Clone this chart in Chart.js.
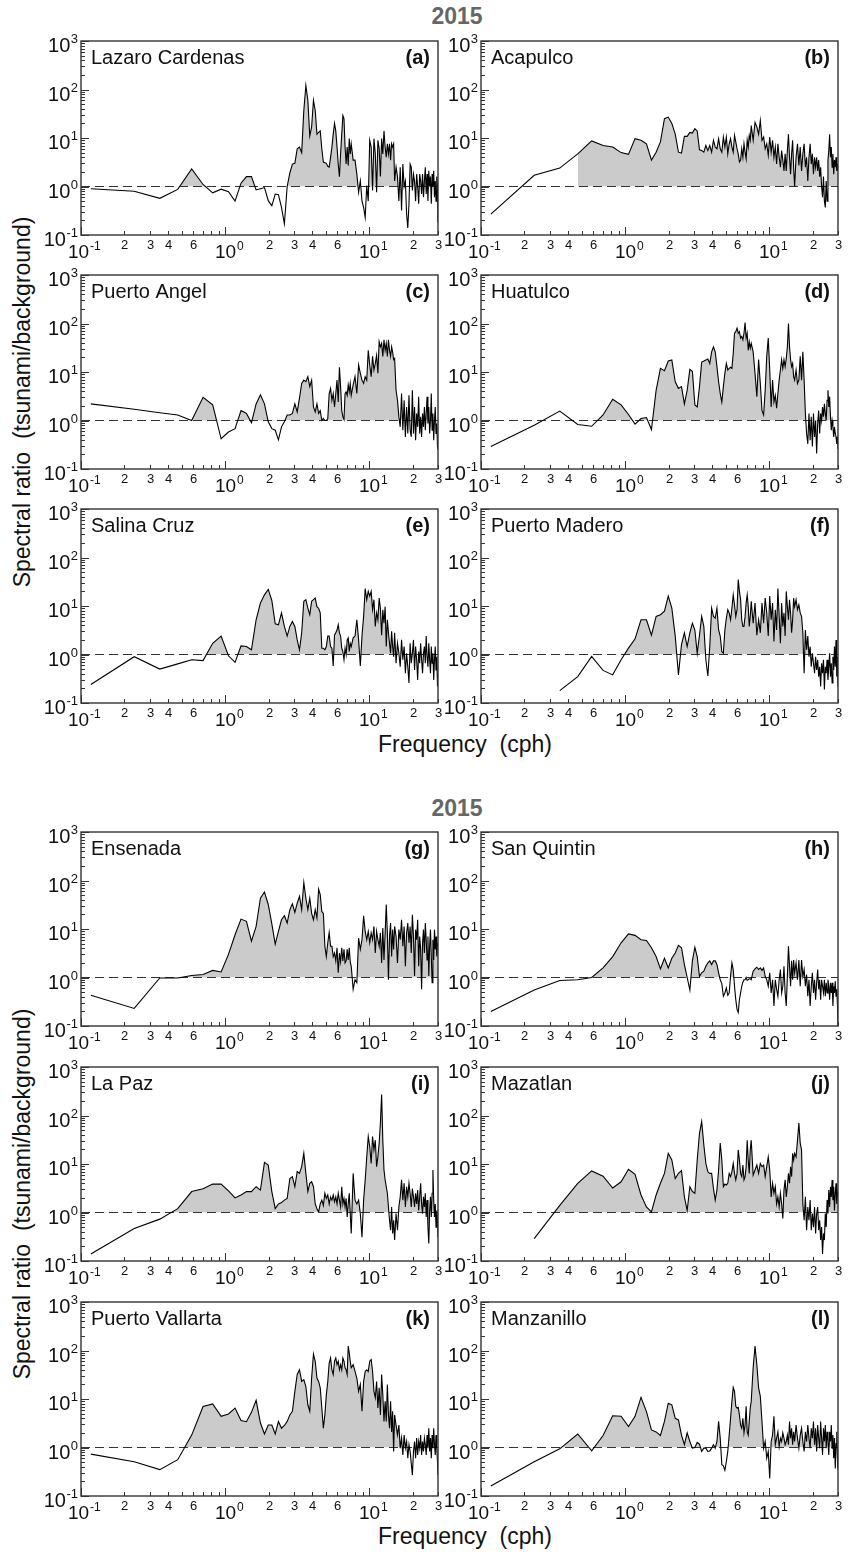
<!DOCTYPE html>
<html><head><meta charset="utf-8">
<script src="https://cdn.jsdelivr.net/npm/chart.js@4.4.1/dist/chart.umd.min.js"></script>
<style>
html,body{margin:0;padding:0;background:#fff;}
body{width:849px;height:1555px;position:relative;overflow:hidden;font-family:"Liberation Sans",Arial,sans-serif;color:#111;}
canvas{position:absolute;}
.t{position:absolute;white-space:nowrap;line-height:23px;}
.yr{font-weight:bold;font-size:23px;color:#666;transform:translateX(-50%);}
.xl{font-size:23px;transform:translateX(-50%);}
.yl{font-size:23px;transform:translate(-50%,-50%) rotate(-90deg);}
</style></head><body>
<div class="t yr" style="left:457px;top:5px;">2015</div>
<div class="t xl" style="left:465px;top:733px;">Frequency&nbsp;&nbsp;(cph)</div>
<div class="t yl" style="left:22px;top:402px;">Spectral ratio&nbsp;&nbsp;(tsunami/background)</div>
<div class="t yr" style="left:457px;top:797px;">2015</div>
<div class="t xl" style="left:465px;top:1525px;">Frequency&nbsp;&nbsp;(cph)</div>
<div class="t yl" style="left:22px;top:1194px;">Spectral ratio&nbsp;&nbsp;(tsunami/background)</div>
<script>
// Frequency grid (cph)
const FREQ = [
0.117,0.234,0.352,0.469,0.586,0.703,0.820,0.938,1.055,1.172,
1.289,1.406,1.523,1.641,1.758,1.875,1.992,2.109,2.227,2.344,
2.461,2.578,2.695,2.813,2.930,3.047,3.164,3.281,3.398,3.516,
3.633,3.750,3.867,3.984,4.102,4.219,4.336,4.453,4.570,4.688,
4.805,4.922,5.039,5.156,5.273,5.391,5.508,5.625,5.742,5.859,
5.977,6.094,6.211,6.328,6.445,6.563,6.680,6.797,6.914,7.031,
7.148,7.266,7.383,7.500,7.734,7.969,8.203,8.438,8.672,8.906,
9.141,9.375,9.609,9.844,10.078,10.313,10.547,10.781,11.016,11.250,
11.484,11.719,11.953,12.188,12.422,12.656,12.891,13.125,13.359,13.594,
13.828,14.063,14.297,14.531,14.766,15.000,15.352,15.703,16.055,16.406,
16.758,17.109,17.461,17.813,18.164,18.516,18.867,19.219,19.570,19.922,
20.273,20.625,20.977,21.328,21.680,22.031,22.383,22.734,23.086,23.438,
23.789,24.141,24.492,24.844,25.195,25.547,25.898,26.250,26.602,26.953,
27.305,27.656,28.008,28.359,28.711,29.063,29.414,29.766,30.000];

// Spectral ratio (tsunami/background) per station
const LAZARO_CARDENAS = [
0.9,0.8,0.57,0.87,2.3,1.1,0.74,0.88,0.78,0.5,
1.17,1.6,1.6,0.85,0.9,0.95,0.51,0.4,0.7,0.68,
0.37,0.17,1.0,1.9,2.9,3.0,6,6.5,5,37,
120,60,11,17,60,37,12,13,14,6,
3.2,3.1,3.0,2.6,2.5,4,6.5,12,20,14,
6.5,2.9,1.6,4.7,12,29,25,6.5,2.9,6.5,
2.7,9.7,4.7,7.6,3.5,3.5,1.8,0.76,1.3,0.5,
0.37,0.23,1.05,0.5,9,6.5,0.83,9.7,4.7,0.76,
9,6,1.6,9.7,4.7,14,6.5,4,7.6,4.7,
7.6,3.5,7.6,6.5,7.6,1.3,2.5,1.6,0.5,2.5,
0.32,2.9,1.0,1.3,0.27,0.14,0.44,2.9,2.5,0.83,
1.8,1.3,0.5,1.8,1,0.44,1.8,1.3,0.7,1.8,
0.6,1.3,2.5,0.7,1.8,0.5,2.1,1,1.6,0.44,
1.8,1.0,2.1,0.6,1.3,0.5,1.6,1,0.18];
const ACAPULCO = [
0.27,1.7,2.4,4.7,8.7,7,6.5,5,4.6,9.7,
9,7.6,3.5,5.1,8.3,25,27,20,12,5.1,
4.9,10.8,10.8,13,12.6,15.6,14,5.7,5.5,5.1,
7,5.5,7,5.1,9,6.5,6,9.7,6,5.1,
10.5,6.5,10.5,4.7,7.6,9.7,6.5,5.1,11.3,8.3,
6,4.7,3.2,3.5,6,4,7.6,5.1,3.7,9,
6.5,11.3,9,18,9,21,17,12,23,9,
10.5,6,7.6,4.4,10.5,5.1,9,4,6.5,2.9,
7.6,4,2.5,5.5,3.5,2.1,4.7,2.1,5.5,12,
4,1.8,4.7,9,2.5,1.0,4,7.6,2.7,6.5,
2.1,4.7,7.6,2.5,4,1.3,4,7.6,2.9,4.7,
1.8,4,2.5,4,2.1,3.5,1.6,2.5,1.0,0.6,
1.6,0.5,0.37,1.3,0.5,3.5,5.5,12,4,6.5,
2.5,4.7,1.8,3.5,2.5,4,2.1,2.9,2.1];
const PUERTO_ANGEL = [
2.2,1.7,1.44,1.3,1.0,3.0,2.1,0.42,0.58,0.68,
1.6,1.4,0.9,2.2,3.4,2.2,0.94,0.68,0.63,0.4,
0.74,0.94,1.3,1.3,1.4,2.2,1.5,2.9,5.8,6.8,
6.3,8,5,6.8,1.9,1.5,2.2,1.4,1.6,1.0,
1.1,1.0,1.0,1.1,3.6,4.6,2.6,3.6,1.9,3.6,
6.8,2.4,12.5,5,1.6,1.2,1.05,3.6,3.9,3.3,
5.4,3.9,5.8,3.3,5.4,8,3.6,14,9.4,6.8,
5.8,8,6.8,28,14,8,21,11,15,22,
9.4,42,33,39,21,46,28,39,21,46,
28,21,33,26,18,19,4.2,2.6,1.2,0.74,
3.6,0.63,2.6,0.46,1.9,0.54,3.3,0.63,0.46,4.2,
0.54,1.9,0.39,1.4,0.74,3.1,0.54,1.2,0.46,1.4,
0.74,1.9,0.63,1.4,3.1,0.87,1.9,0.54,1.0,3.6,
0.63,1.4,0.39,1.0,1.9,0.54,0.87,0.29,0.25];
const HUATULCO = [
0.29,0.8,1.56,0.83,0.76,1.3,2.75,2.1,1.33,0.84,
1.1,1.15,0.65,4.2,11.9,10.6,16.8,17.7,6.3,4.6,
5,2.2,4.2,11.3,10.2,2.1,1.9,5,16,16.8,
17.7,18.6,15,26,33,26,12.9,6.3,3.6,2.4,
5,9.4,15,11,11.9,12.5,11.9,24,63,68,
80,63,68,50,54,46,63,105,50,63,
28,42,31,39,26,9.4,3.1,18,5.8,1.6,
1.3,4.2,21,50,11,1.9,6.8,2.4,3.3,1.8,
3.6,6.8,11,18,11.9,18,12.9,19,33,100,
33,18,12.9,15,8,6.8,11,5.8,6.8,21,
6.8,26,6.8,1.4,0.54,0.33,1.4,0.39,1.2,0.29,
1.4,0.46,1.0,0.21,0.87,1.6,0.54,1.4,1.0,1.9,
1.2,2.2,1.4,1.0,2.6,4.2,1.9,3.1,1.2,0.63,
1.0,0.74,0.46,0.74,0.54,0.46,0.33,0.46,0.26];
const SALINA_CRUZ = [
0.24,0.9,0.5,0.64,0.78,0.75,1.7,2.4,0.94,0.69,
1.5,1.46,1.25,5.2,11.5,17,22,13,4.3,4.1,
7.2,3.8,2.4,3.8,4.8,3.8,2.0,1.25,2.8,12.5,
13.5,9,6.6,12.5,13.5,14.6,9.7,9,7.2,1.35,
1.35,1.25,1.46,2.4,2.4,1.46,1.35,0.58,2.5,2.8,
3.2,4.1,2.8,2.4,1.35,1.15,0.78,1.35,1.0,2.0,
2.2,1.15,1.7,1.46,2.2,2.4,5.2,2.0,0.58,2.4,
6.1,23,13.5,20,16,20,8.4,13.5,3.8,7.2,
5.2,14.6,9,2.5,8.4,4.4,9.7,1.46,5.2,2.8,
1.7,1.06,3,1.46,0.9,2.8,0.66,1.7,1.06,0.56,
2.0,0.78,1.46,0.41,1.06,0.56,0.26,1.7,0.66,1.06,
2.0,0.48,1.46,0.78,0.3,1.15,0.66,1.7,0.78,0.41,
1.06,1.46,0.66,2.4,0.9,0.56,1.7,0.78,0.41,1.46,
0.66,1.06,0.3,0.78,1.46,0.48,0.9,0.22,0.41];
const PUERTO_MADERO = [
null,null,0.18,0.35,0.91,0.47,0.38,0.78,1.35,2.1,
5.2,5.2,2.5,6.1,6.6,7.8,16,9,2.4,0.38,
1.6,2.8,1.46,2.8,4.4,3.2,1.06,2.5,6.1,3.8,
0.78,0.36,1.46,9,6.1,5.6,9,3.2,2.4,1.15,
1.06,3.2,5.6,8.4,7.2,5.2,9,17,10.6,6.1,
8.4,35,20,13.5,5.2,3.8,3.8,6.1,11.5,17,
9.7,3.8,6.1,12.5,4.4,11.5,2.5,5.2,2.8,11.5,
4.4,14.6,7.2,2.4,16,5.2,11.5,1.85,8.4,3.2,
23,6.1,1.7,11.5,3.8,7.2,2.4,20,9.7,5.2,
13.5,7.2,2.8,5.2,14.6,9.7,13.5,8.4,10.6,7.2,
6.1,2.8,0.41,3.2,1.25,2.4,0.9,1.46,0.56,1.06,
0.66,0.41,0.9,0.48,0.78,0.35,0.56,0.22,0.66,0.41,
0.78,0.19,0.56,0.41,0.78,0.3,0.56,1.06,0.35,0.66,
0.26,0.9,0.48,1.46,0.56,2.0,0.35,0.9,0.22];
const ENSENADA = [
0.43,0.23,0.98,0.98,1.1,1.15,1.4,1.3,3.0,7.6,
16,14.4,5.6,11.3,43,58,32,12.8,4.9,8.9,
15.5,18.8,13.3,25,33,22,34,47,25,91,
43,25,43,21,15.5,25,17,66,51,23,
21,4.4,2.7,5.2,8.5,4.4,4.4,2.7,3.2,2.2,
4.1,1.25,3.2,2.1,4.1,2.2,3.8,2.0,2.2,3.8,
2.3,4.1,2.1,1.7,0.57,0.9,0.78,6.5,3.8,6.0,
18.8,8.9,6,8.9,5.2,8.3,6,11.3,3.2,8.9,
6,4.4,8.3,2,10.5,2.3,8.3,32,8.3,0.9,
7,13.3,2.7,9.7,3.8,11.3,7,2,9.7,6,
15.5,4.4,11.3,1.7,8.3,13.3,5.2,11.3,3.2,19.7,
7,1.07,9.7,6,15.5,1.7,7,3.8,0.57,5.2,
9.7,3.2,13.3,6,2.3,7,1.07,4.4,9.7,2.7,
0.78,6,2.3,9.7,3.8,7,2.7,5.2,4.4];
const SAN_QUINTIN = [
0.2,0.55,0.87,0.9,1.0,1.58,2.7,5.2,7.9,7.4,
6.0,5.8,4.1,2.7,1.5,2.5,1.58,2.5,3.2,4.6,
4.1,1.85,1.0,0.55,2.2,4.2,2.7,1.06,1.25,1.35,
1.7,2.0,2.2,1.85,2.2,2.2,1.85,1.25,0.9,0.75,
0.41,0.48,0.61,0.43,0.48,1.06,2.0,1.46,0.66,0.35,
0.22,0.19,0.35,0.48,0.66,0.8,0.9,0.9,1.0,0.88,
0.9,0.94,0.94,0.9,1.35,1.5,1.63,1.46,1.58,1.4,
1.58,1.06,0.9,0.66,1.25,0.48,0.9,0.26,0.9,0.57,
0.41,0.9,1.46,0.48,0.66,1.7,0.48,0.26,1.06,4.4,
1.7,0.66,2.2,0.9,2.3,1.25,2.0,0.9,2.3,0.66,
2.3,1.06,1.46,0.66,1.15,0.41,0.9,0.26,0.66,1.25,
0.48,0.9,0.35,0.78,1.46,0.57,0.9,0.35,0.9,0.66,
0.48,0.9,0.41,0.78,0.48,0.9,0.66,0.35,0.78,0.48,
0.78,0.26,0.66,0.48,0.84,0.41,0.57,0.26,0.1];
const LA_PAZ = [
0.14,0.47,0.73,1.2,2.7,3.1,3.85,3.85,2.8,2.0,
2.3,2.7,2.7,3.4,2.9,10.8,9.5,2.7,1.2,1.5,
1.6,1.8,1.95,5.0,5.5,3.4,7,6.4,8.8,16.6,
6.4,2.7,4,4.3,3.4,1.5,1.2,1.03,1.5,1.8,
1.4,2.5,1.95,2.3,1.5,2.1,1.8,2.3,1.66,2.1,
1.5,2.5,1.8,1.3,3.4,1.5,1.95,1.3,1.95,0.81,
1.5,2.5,0.95,0.37,6.4,1.8,1.5,1.8,0.95,0.31,
1.8,4.7,14,37,23,10.3,37,19.5,31,8.8,
14,27,70,270,31,7.5,4.7,3.4,2.5,1.3,
0.69,0.43,1.3,0.37,0.69,0.27,0.95,0.43,1.3,2.1,
4.7,1.8,4,1.3,3.4,2.1,4,2.5,1.3,3.1,
2.1,1.3,2.5,1.5,2.9,1.1,2.1,4,1.5,0.95,
2.1,1.3,2.5,0.81,1.8,0.5,0.23,1.1,2.1,0.81,
2.5,7.5,1.8,0.81,1.5,0.5,1.1,0.69,0.31];
const MAZATLAN = [
null,0.29,1.4,4.0,7.2,5.6,3.2,4.3,7.8,6.1,
2.3,1.3,1.03,2.3,4,6.4,16.6,12.1,5.0,6.4,
7.3,2.1,1.1,3.4,2.7,2.5,12.1,43,75,25,
10.3,6.9,6.4,6.4,3.1,1.8,2.9,7.5,27,12.1,
3.4,3.85,3.7,4,6.4,5.5,6.9,10.3,6.4,4.7,
6.4,19.5,12.1,6.4,5.5,9.5,4.7,5.5,8.8,31,
12.1,6.4,19.5,31,5.9,7.5,9.5,6.4,10.3,8.8,
9.5,5.5,8.8,14,7.5,2.1,4,2.5,3.4,1.5,
2.1,1.3,2.5,1.5,0.75,2.9,4.7,2.1,3.4,6.4,
4,8.8,5.5,16.6,12.1,16.6,14,31,70,27,
19.5,1.5,0.69,2.1,0.43,1.3,0.69,1.8,0.43,0.95,
0.5,1.3,0.37,0.95,1.3,0.43,0.69,0.27,0.5,0.14,
0.37,0.27,0.95,0.5,1.8,0.95,2.9,1.3,3.4,2.1,
4.7,1.8,3.4,1.1,2.5,4,1.5,2.5,2.1];
const PUERTO_VALLARTA = [
0.73,0.51,0.35,0.56,1.8,7.0,7.9,4.4,4.9,6.5,
3.6,3.4,5.3,9.4,3.2,1.9,2.9,2.9,1.9,3.45,
2.5,2.85,3.45,4.7,5.6,14.4,32,40,23,25,
18,7.6,5.6,27,85,60,27,23,17,6.5,
2.5,4.7,12.3,23,55,70,40,32,60,70,
51,60,40,51,40,70,60,44,40,32,
123,90,60,44,51,37,27,14.4,20,5.6,
23,37,40,37,60,65,37,14.4,10.6,23,
6.5,17,4.7,32,12.3,3.45,9,3.45,20,4.7,
2.5,9,2.1,5.6,0.83,4.7,2.9,1.8,2.9,0.97,
1.56,0.7,1.8,0.97,1.33,0.6,1.14,0.83,0.47,0.27,
0.83,1.33,0.6,1.56,0.7,1.33,0.97,1.8,0.7,1.33,
0.83,1.56,1.14,0.7,1.8,0.97,2.5,0.83,1.56,0.6,
1.8,0.97,2.5,1.14,0.7,1.8,0.97,0.51,0.27];
const MANZANILLO = [
0.16,0.51,0.94,1.9,0.85,1.77,4.5,4.4,2.7,4.4,
10.8,5.5,2.3,2.1,1.77,3.45,8.2,7.6,4.0,3.7,
1.8,1.14,2.0,1.33,0.97,1.0,1.27,1.17,0.83,0.97,
0.97,0.83,0.85,0.97,1.14,0.97,1.33,3.45,1.56,0.44,
0.42,0.34,0.51,0.83,1.8,4.0,9,17.4,14.4,7.1,
6.5,6.7,4.7,2.9,2.5,4.0,2.0,2.9,7.1,2.1,
1.8,3.45,6.5,9,44,123,51,17,11.3,3.45,
0.97,1.33,0.6,0.83,0.23,1.33,1.8,4.4,1.14,1.56,
2.1,1.05,1.56,1.33,2.0,1.56,1.14,1.33,1.8,1.14,
3.45,1.56,2.5,1.14,2.1,1.33,2.9,1.56,0.97,1.8,
2.5,1.33,0.83,2.1,1.33,2.9,1.56,0.97,2.5,1.56,
3.45,1.14,2.5,0.83,2.9,1.56,0.97,3.45,1.56,0.7,
2.5,1.33,2.9,0.97,2.1,1.33,0.7,2.1,1.33,2.9,
0.97,1.8,0.6,1.56,0.37,1.2,2.1,0.5,0.35];

const STATIONS = ['Lazaro Cardenas','Acapulco','Puerto Angel','Huatulco','Salina Cruz','Puerto Madero',
  'Ensenada','San Quintin','La Paz','Mazatlan','Puerto Vallarta','Manzanillo'];
const LETTERS = ['(a)','(b)','(c)','(d)','(e)','(f)','(g)','(h)','(i)','(j)','(k)','(l)'];
const SERIES = [LAZARO_CARDENAS,ACAPULCO,PUERTO_ANGEL,HUATULCO,SALINA_CRUZ,PUERTO_MADERO,
  ENSENADA,SAN_QUINTIN,LA_PAZ,MAZATLAN,PUERTO_VALLARTA,MANZANILLO];
// Lowest frequency at which shading starts in each panel (null = from first point)
const SHADE_FROM = [null,0.469,0.586,0.469,null,null,null,null,null,null,null,null];
const BASELINE = 1;

// Axis ticks
const X_TICKS = [0.1,0.2,0.3,0.4,0.5,0.6,0.7,0.8,0.9,1,2,3,4,5,6,7,8,9,10,20,30];
const X_TICK_LABELS = ['10|-1','2','3','4','','6','','','','10|0','2','3','4','','6','','','','10|1','2','3'];
const Y_TICKS = [0.1,1,10,100,1000];
const Y_TICK_LABELS = ['10|-1','10|0','10|1','10|2','10|3'];

// Layout (plot-area positions in page pixels)
const COL_X = [81, 481];
const ROW_Y = [41, 275, 509, 832, 1067, 1302];
const PLOT_W = 357, PLOT_H = 194;
const PAD = {left:78, right:12, top:12, bottom:32};
const FONT = '"Liberation Sans", Arial, sans-serif';

const axesPlugin = {
  id:'axesDeco',
  afterDraw(chart){
    const {ctx, chartArea:a, scales:{x, y}} = chart;
    const idx = chart.options.plugins.axesDeco.idx;
    ctx.save();
    ctx.strokeStyle = '#333';
    ctx.fillStyle = '#111';
    ctx.lineWidth = 1;
    X_TICKS.forEach((v,i)=>{
      const px = Math.round(x.getPixelForValue(v)) + 0.5;
      const lab = X_TICK_LABELS[i];
      const major = lab.indexOf('|') >= 0;
      const len = major ? 8 : 4;
      ctx.beginPath(); ctx.moveTo(px, a.bottom); ctx.lineTo(px, a.bottom - len); ctx.stroke();
      if (!lab) return;
      ctx.textBaseline = 'alphabetic';
      if (major) {
        const [b, e] = lab.split('|');
        ctx.font = '19px ' + FONT;
        const wb = ctx.measureText(b).width;
        const sh = e.charAt(0) === '-' ? -3 : 0;
        ctx.textAlign = 'left';
        ctx.fillText(b, px - wb/2 + sh, a.bottom + 23);
        ctx.font = '12px ' + FONT;
        ctx.fillText(e, px + wb/2 + sh + 1, a.bottom + 15);
      } else {
        ctx.font = '13px ' + FONT;
        ctx.textAlign = 'center';
        ctx.fillText(lab, px, a.bottom + 14);
      }
    });
    Y_TICKS.forEach((v,i)=>{
      const py = Math.round(y.getPixelForValue(v)) + 0.5;
      ctx.beginPath(); ctx.moveTo(a.left, py); ctx.lineTo(a.left + 8, py); ctx.stroke();
      if (i < Y_TICKS.length - 1) {
        for (let m = 2; m <= 9; m++) {
          const pm = Math.round(y.getPixelForValue(v*m)) + 0.5;
          ctx.beginPath(); ctx.moveTo(a.left, pm); ctx.lineTo(a.left + 4, pm); ctx.stroke();
        }
      }
      const [b, e] = Y_TICK_LABELS[i].split('|');
      ctx.textAlign = 'right';
      ctx.font = '13px ' + FONT;
      const we = ctx.measureText(e).width;
      const xr = a.left - 3;
      ctx.fillText(e, xr, py + 1);
      ctx.font = '20px ' + FONT;
      ctx.fillText(b, xr - we - 0.5, py + 10);
    });
    ctx.lineWidth = 1.4;
    ctx.strokeStyle = '#333';
    ctx.strokeRect(a.left, a.top, a.right - a.left, a.bottom - a.top);
    ctx.fillStyle = '#111';
    ctx.textAlign = 'left';
    ctx.font = '20px ' + FONT;
    ctx.fillText(STATIONS[idx], a.left + 10, a.top + 23);
    ctx.textAlign = 'right';
    ctx.font = 'bold 20px ' + FONT;
    ctx.fillText(LETTERS[idx], a.right - 8, a.top + 23);
    ctx.restore();
  }
};

function points(vals, fromFreq) {
  const out = [];
  FREQ.forEach((f,i)=>{
    if (vals[i] === null || vals[i] === undefined) return;
    if (fromFreq !== null && fromFreq !== undefined && f < fromFreq - 1e-9) return;
    out.push({x:f, y:vals[i]});
  });
  return out;
}

SERIES.forEach((vals, idx)=>{
  const col = idx % 2;
  const row = Math.floor(idx / 2);
  const cv = document.createElement('canvas');
  const W = PLOT_W + PAD.left + PAD.right, H = PLOT_H + PAD.top + PAD.bottom;
  cv.width = W; cv.height = H;
  cv.style.left = (COL_X[col] - PAD.left) + 'px';
  cv.style.top = (ROW_Y[row] - PAD.top) + 'px';
  cv.style.width = W + 'px'; cv.style.height = H + 'px';
  document.body.appendChild(cv);

  const shade = {value: BASELINE, above: '#cbcbcb', below: 'rgba(0,0,0,0)'};
  const datasets = [
    {data: points(vals), borderColor:'#000', borderWidth:1.1, pointRadius:0, tension:0,
     fill:false, order:0},
    {data: [{x:0.1, y:BASELINE},{x:30, y:BASELINE}], borderColor:'#333', borderWidth:1,
     borderDash:[9,5], pointRadius:0, fill:false, order:1},
    {data: points(vals, SHADE_FROM[idx]), borderWidth:0, borderColor:'rgba(0,0,0,0)',
     pointRadius:0, tension:0, fill: shade, order:2}
  ];
  new Chart(cv, {
    type:'line',
    data:{datasets},
    options:{
      responsive:false, animation:false, devicePixelRatio:1,
      layout:{padding:{left:PAD.left, right:PAD.right, top:PAD.top, bottom:PAD.bottom}},
      plugins:{legend:{display:false}, tooltip:{enabled:false}, title:{display:false},
        filler:{drawTime:'beforeDatasetsDraw', propagate:false}, axesDeco:{idx}},
      scales:{
        x:{type:'logarithmic', min:0.1, max:30, display:false},
        y:{type:'logarithmic', min:0.1, max:1000, display:false}
      },
      events:[]
    },
    plugins:[axesPlugin]
  });
});
</script>
</body></html>
